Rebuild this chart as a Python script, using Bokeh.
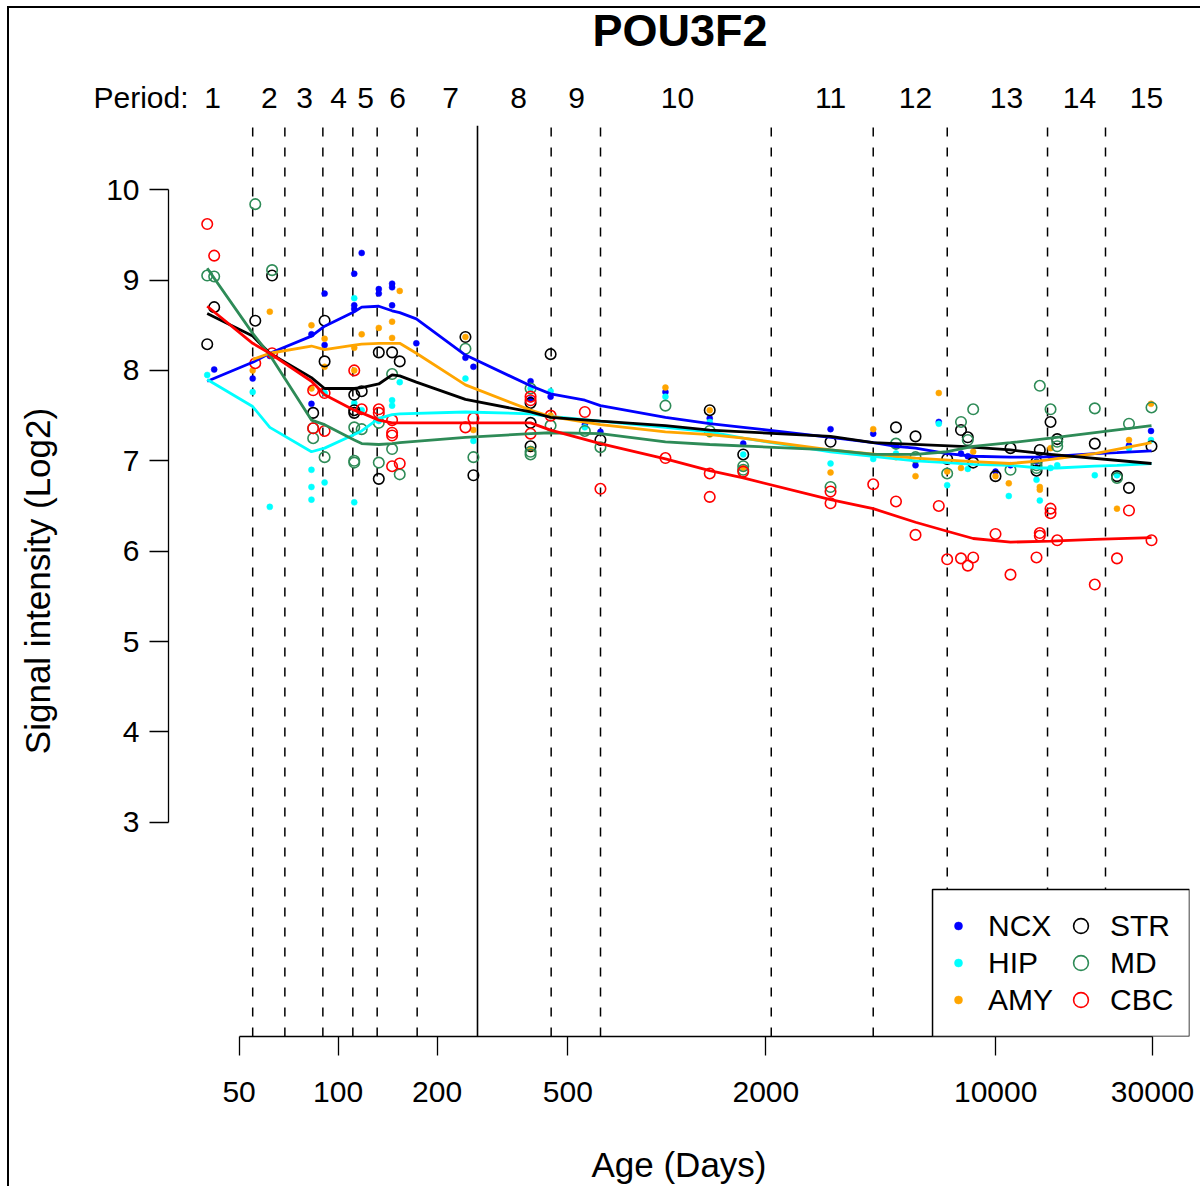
from bokeh.plotting import figure
from bokeh.layouts import column
from bokeh.models import (Range1d, FixedTicker, LogAxis, BasicTickFormatter,
                          Legend, LegendItem, BoxAnnotation)
from bokeh.core.properties import value
from bokeh.embed import file_html
from bokeh.resources import INLINE

# ---------------- data ----------------
title_text = "POU3F2"
x_label = "Age (Days)"
y_label = "Signal intensity (Log2)"
x_ticks = [50, 100, 200, 500, 2000, 10000, 30000]
y_ticks = [3, 4, 5, 6, 7, 8, 9, 10]

period_names = [str(i) for i in range(1, 16)]
period_label_age = [41.5, 61.8, 79.1, 100.3, 121.2, 151.6, 219.8, 353.8, 531.1,
                    1077, 3146, 5704, 10787, 17982, 28742]
period_bounds = [55.0, 68.9, 89.9, 110.9, 131.5, 174.0, 444.7, 628.3,
                 2077, 4242, 7123, 14378, 21578]
birth_age = [265.5]

regions = ["NCX", "HIP", "AMY", "STR", "MD", "CBC"]
colors = {"NCX": "#0000FF", "HIP": "#00FFFF", "AMY": "#FFA500",
          "STR": "#000000", "MD": "#2E8B57", "CBC": "#FF0000"}

ncx_age = [42, 55, 62, 83, 83, 91, 91, 112, 112, 112, 118, 133, 133, 146, 146, 146, 173, 244, 258,
           385, 385, 443, 563, 628, 990, 1350, 1707, 3146, 4242, 4975, 5704, 6714, 7844, 8226,
           9988, 11093, 13310, 14684, 25433, 29676]
ncx_val = [8.01, 7.91, 8.16, 8.40, 7.63, 8.85, 8.28, 9.07, 8.72, 8.68, 9.30, 8.90, 8.85, 8.96, 8.92,
           8.72, 8.30, 8.14, 8.04, 7.88, 7.68, 7.71, 7.40, 7.32, 7.76, 7.47, 7.19, 7.35, 7.30, 7.16,
           6.95, 7.43, 7.08, 7.05, 6.88, 6.95, 6.99, 7.05, 7.17, 7.33]

hip_age = [40, 55, 62, 83, 83, 83, 91, 91, 112, 112, 112, 118, 133, 146, 146, 154, 244, 258, 385,
           443, 563, 990, 1350, 1707, 3146, 4242, 4975, 6714, 7120, 8226, 10962, 13310, 13621,
           14684, 15389, 20018, 23384, 25433, 29676]
hip_val = [7.95, 7.76, 6.49, 6.90, 6.71, 6.57, 7.75, 6.76, 8.80, 7.64, 6.54, 7.56, 7.44, 7.67, 7.61,
           7.87, 7.91, 7.22, 7.80, 7.77, 7.37, 7.71, 7.43, 7.07, 6.97, 7.02, 7.08, 7.41, 6.73, 6.91,
           6.61, 6.79, 6.56, 6.92, 6.95, 6.84, 6.84, 7.14, 7.23]

amy_age = [55, 62, 83, 83, 91, 91, 112, 112, 118, 133, 146, 146, 154, 244, 258, 385, 443, 990,
           1350, 1350, 1707, 3146, 4242, 4975, 5704, 6714, 7120, 7844, 8543, 9988, 10962, 13621,
           13621, 14684, 23384, 25433, 29676]
amy_val = [8.00, 8.65, 8.50, 7.80, 8.35, 8.04, 8.25, 8.00, 8.40, 8.47, 8.54, 8.36, 8.88, 8.37, 7.34,
           7.13, 7.50, 7.81, 7.56, 7.29, 6.92, 6.87, 7.35, 7.04, 6.83, 7.75, 6.88, 6.92, 7.10, 6.83,
           6.75, 6.71, 6.68, 7.14, 6.47, 7.23, 7.63]

str_age = [40, 42, 56, 63, 84, 91, 91, 112, 112, 112, 118, 133, 133, 146, 154, 244, 258, 385, 385,
           385, 443, 628, 1350, 1707, 3146, 4975, 5704, 7120, 7844, 8226, 8543, 9988, 11093, 13310,
           13310, 13621, 14684, 15389, 20018, 23384, 25433, 29780]
str_val = [8.29, 8.70, 8.55, 9.05, 7.53, 8.55, 8.10, 7.73, 7.56, 7.53, 7.77, 8.20, 6.80, 8.20, 8.10,
           8.37, 6.84, 7.64, 7.42, 7.16, 8.18, 7.23, 7.56, 7.07, 7.21, 7.37, 7.27, 7.02, 7.34, 7.26,
           6.98, 6.83, 7.14, 6.99, 6.89, 7.12, 7.43, 7.24, 7.19, 6.83, 6.70, 7.16]

md_age = [40, 42, 56, 63, 84, 84, 91, 112, 112, 112, 118, 133, 133, 146, 146, 154, 244, 258, 385,
          385, 385, 443, 563, 628, 990, 1350, 1707, 1707, 3146, 4975, 5704, 7120, 7844, 8226, 8543,
          11093, 13310, 13310, 13621, 14684, 15389, 15389, 20018, 23384, 25433, 29780]
md_val = [9.05, 9.04, 9.84, 9.11, 7.36, 7.25, 7.04, 7.37, 7.00, 6.98, 7.35, 7.42, 6.98, 7.96, 7.13,
          6.85, 8.24, 7.04, 7.80, 7.10, 7.07, 7.39, 7.33, 7.15, 7.61, 7.33, 6.94, 6.90, 6.71, 7.19,
          7.04, 6.86, 7.43, 7.23, 7.57, 6.90, 6.95, 6.92, 7.83, 7.57, 7.16, 7.21, 7.58, 6.81, 7.41,
          7.59]

cbc_age = [40, 42, 56, 63, 84, 84, 91, 91, 112, 118, 133, 133, 146, 146, 146, 146, 154, 244, 258,
           385, 385, 385, 443, 563, 628, 990, 1350, 1350, 1707, 3146, 3146, 4242, 4975, 5704, 6714,
           7120, 7844, 8226, 8543, 9988, 11093, 13310, 13621, 13621, 14684, 14684, 15389, 20018,
           23384, 25433, 29780]
cbc_val = [9.62, 9.27, 8.08, 8.19, 7.78, 7.36, 7.75, 7.33, 8.00, 7.57, 7.57, 7.53, 7.45, 7.31, 7.28,
           6.94, 6.97, 7.37, 7.47, 7.71, 7.67, 7.30, 7.50, 7.54, 6.69, 7.03, 6.86, 6.60, 6.88, 6.66,
           6.53, 6.74, 6.55, 6.18, 6.50, 5.91, 5.92, 5.84, 5.93, 6.19, 5.74, 5.93, 6.20, 6.17, 6.47,
           6.42, 6.12, 5.63, 5.92, 6.45, 6.12]

# smoothed curves
ncx_fit_age = [40, 55, 62, 83, 91, 112, 118, 133, 146, 154, 173, 244, 385, 443, 563, 628, 990,
               1350, 1707, 3146, 4242, 4975, 5704, 7120, 8543, 11093, 13621, 15389, 20018, 23384,
               29780]
ncx_fit_val = [7.88, 8.09, 8.19, 8.38, 8.49, 8.65, 8.70, 8.71, 8.66, 8.64, 8.57, 8.17, 7.83, 7.74,
               7.67, 7.61, 7.48, 7.41, 7.37, 7.26, 7.20, 7.16, 7.14, 7.08, 7.05, 7.04, 7.04, 7.05,
               7.08, 7.09, 7.11]

hip_fit_age = [40, 55, 62, 83, 91, 112, 118, 133, 146, 154, 244, 385, 443, 628, 990, 1350, 1707,
               3146, 4242, 4975, 5704, 7120, 8543, 11093, 13621, 15389, 20018, 23384, 29780]
hip_fit_val = [7.90, 7.60, 7.37, 7.10, 7.14, 7.29, 7.33, 7.47, 7.51, 7.52, 7.54, 7.52, 7.49, 7.44,
               7.37, 7.32, 7.25, 7.10, 7.05, 7.02, 7.00, 6.98, 6.96, 6.95, 6.92, 6.92, 6.94, 6.95,
               6.97]

amy_fit_age = [55, 62, 83, 91, 112, 118, 133, 154, 173, 244, 385, 443, 628, 990, 1350, 1707, 3146,
               5704, 7844, 8543, 11093, 13621, 20018, 29780]
amy_fit_val = [8.12, 8.19, 8.27, 8.23, 8.28, 8.29, 8.30, 8.30, 8.19, 7.84, 7.56, 7.49, 7.40, 7.32,
               7.29, 7.25, 7.12, 7.03, 7.00, 6.99, 6.97, 7.00, 7.08, 7.20]

str_fit_age = [40, 55, 62, 83, 91, 112, 118, 133, 146, 154, 173, 244, 385, 443, 628, 990, 1350,
               3146, 4242, 7844, 11093, 14684, 29780]
str_fit_val = [8.63, 8.38, 8.19, 7.92, 7.80, 7.80, 7.81, 7.85, 7.95, 7.94, 7.87, 7.68, 7.54, 7.48,
               7.44, 7.39, 7.34, 7.27, 7.20, 7.16, 7.12, 7.07, 6.97]

md_fit_age = [40, 55, 62, 83, 91, 112, 118, 133, 146, 154, 244, 385, 443, 628, 990, 1350, 3146,
              4242, 5704, 7120, 8543, 11093, 14684, 29780]
md_fit_val = [9.13, 8.41, 8.17, 7.45, 7.40, 7.23, 7.19, 7.18, 7.19, 7.20, 7.26, 7.30, 7.31, 7.30,
              7.21, 7.18, 7.12, 7.07, 7.07, 7.10, 7.16, 7.20, 7.25, 7.39]

cbc_fit_age = [40, 55, 62, 83, 91, 112, 118, 133, 146, 244, 385, 443, 628, 990, 1350, 1707, 3146,
               4242, 5704, 7120, 8543, 11093, 14684, 20018, 29780]
cbc_fit_val = [8.71, 8.30, 8.19, 7.88, 7.73, 7.56, 7.53, 7.45, 7.42, 7.42, 7.42, 7.34, 7.19, 7.02,
               6.89, 6.81, 6.57, 6.47, 6.32, 6.22, 6.14, 6.10, 6.11, 6.13, 6.15]

points = {"NCX": (ncx_age, ncx_val), "HIP": (hip_age, hip_val), "AMY": (amy_age, amy_val),
          "STR": (str_age, str_val), "MD": (md_age, md_val), "CBC": (cbc_age, cbc_val)}
fits = {"NCX": (ncx_fit_age, ncx_fit_val), "HIP": (hip_fit_age, hip_fit_val),
        "AMY": (amy_fit_age, amy_fit_val), "STR": (str_fit_age, str_fit_val),
        "MD": (md_fit_age, md_fit_val), "CBC": (cbc_fit_age, cbc_fit_val)}
filled = {"NCX", "HIP", "AMY"}

# ---------------- layout constants ----------------
FONT = "Liberation Sans"
W = 1200
HEADER_H = 125
X_START, X_END = 30.5, 38857.0          # main plotting region (log axis)
HX_START, HX_END = 9.404, 41970.0       # same scale stretched over the full header width
Y_START, Y_END = 0.6286, 10.7105
LEGEND_LEFT, LEGEND_TOP = 6426.0, 2.2555

# ---------------- header: title + period labels ----------------
hdr = figure(width=W, height=HEADER_H, x_axis_type="log",
             x_range=Range1d(HX_START, HX_END), y_range=Range1d(0, 1),
             x_axis_location=None, y_axis_location=None,
             output_backend="svg", toolbar_location=None,
             min_border_left=0, min_border_right=0, min_border_top=0, min_border_bottom=0)
hdr.grid.visible = False
hdr.outline_line_color = None
hdr.background_fill_alpha = 0.0
hdr.border_fill_alpha = 0.0
hdr.title.text = title_text
hdr.title.align = "left"
hdr.title.offset = 592
hdr.title.text_font = FONT
hdr.title.text_font_size = "45px"
hdr.title.text_font_style = "bold"
hdr.title.text_color = "black"
hdr.title.standoff = 4

hdr.text(x=period_label_age, y=[0] * len(period_names), text=period_names,
         y_offset=-28, text_align="center", text_baseline="middle",
         text_font=value(FONT), text_font_size="30px", text_color="black")
hdr.text(x=[35.1], y=[0], text=["Period:"], y_offset=-28, text_align="right",
         text_baseline="middle", text_font=value(FONT), text_font_size="30px",
         text_color="black")

# ---------------- main plot ----------------
p = figure(width=W, height=1061, x_axis_type="log",
           x_range=Range1d(X_START, X_END), y_range=Range1d(Y_START, Y_END),
           output_backend="svg", toolbar_location=None,
           min_border_left=168, min_border_right=11, min_border_top=0, min_border_bottom=150)
p.border_fill_alpha = 0.0
p.outline_line_color = None
p.xgrid.visible = False
p.ygrid.visible = False
p.background_fill_color = "white"

# keep the two canvases' frames independent of each other
hdr.frame_align = False
p.frame_align = False

xa = p.xaxis[0]
xa.ticker = FixedTicker(ticks=x_ticks, minor_ticks=[])
xa.formatter = BasicTickFormatter(use_scientific=False)
xa.bounds = (x_ticks[0], x_ticks[-1])
xa.major_tick_out = 19
xa.major_tick_in = 0
xa.minor_tick_out = 0
xa.minor_tick_in = 0
xa.major_label_standoff = 26
xa.major_label_text_font = FONT
xa.major_label_text_font_size = "30px"
xa.major_label_text_color = "black"
xa.axis_line_width = 1.3
xa.major_tick_line_width = 1.3

ya = p.yaxis[0]
ya.ticker = FixedTicker(ticks=y_ticks, minor_ticks=[])
ya.bounds = (y_ticks[0], y_ticks[-1])
ya.major_tick_out = 19
ya.major_tick_in = 0
ya.minor_tick_out = 0
ya.minor_tick_in = 0
ya.major_label_standoff = 10
ya.major_label_text_font = FONT
ya.major_label_text_font_size = "30px"
ya.major_label_text_color = "black"
ya.axis_line_width = 1.3
ya.major_tick_line_width = 1.3
ya.axis_label = y_label
ya.axis_label_standoff = 46
ya.axis_label_text_font = FONT
ya.axis_label_text_font_size = "35px"
ya.axis_label_text_font_style = "normal"
ya.axis_label_text_color = "black"

# x axis title on a separate, tick-less axis (centred on the plotting region)
xl = LogAxis(ticker=FixedTicker(ticks=[]), axis_label=x_label, axis_line_color=None,
             major_tick_line_color=None, minor_tick_line_color=None,
             major_tick_out=0, minor_tick_out=0, major_label_standoff=0,
             axis_label_standoff=40, axis_label_text_font=FONT,
             axis_label_text_font_size="35px", axis_label_text_font_style="normal",
             axis_label_text_color="black")
p.add_layout(xl, "below")

# period boundaries
nb = len(period_bounds)
p.segment(x0=period_bounds, y0=[Y_START] * nb, x1=period_bounds, y1=[Y_END] * nb,
          line_color="black", line_width=1.5, line_dash="9 11")
p.segment(x0=birth_age, y0=[Y_START], x1=birth_age, y1=[Y_END],
          line_color="black", line_width=1.6)

# points
pt_renderers = {}
for reg in regions:
    ages, vals = points[reg]
    c = colors[reg]
    if reg in filled:
        r = p.scatter(ages, vals, marker="circle", size=6, fill_color=c, line_color=c,
                      line_width=0.5)
    else:
        r = p.scatter(ages, vals, marker="circle", size=10.5, fill_color=None, line_color=c,
                      line_width=1.6)
    pt_renderers[reg] = r

# smoothed curves
for reg in regions:
    ages, vals = fits[reg]
    p.line(ages, vals, line_color=colors[reg], line_width=2.8)

# legend
box = BoxAnnotation(left=LEGEND_LEFT, top=LEGEND_TOP, fill_color="white", fill_alpha=1.0,
                    line_color="black", line_width=1.5, line_alpha=1.0)
p.add_layout(box)

common = dict(orientation="vertical", label_height=37, spacing=0, padding=0, margin=0,
              border_line_color=None, background_fill_alpha=0.0,
              label_text_font=FONT, label_text_font_size="30px", label_text_color="black")
legA = Legend(items=[LegendItem(label=r, renderers=[pt_renderers[r]]) for r in ["NCX", "HIP", "AMY"]],
              location=(780, 18), glyph_width=20, glyph_height=37, label_standoff=20, **common)
legB = Legend(items=[LegendItem(label=r, renderers=[pt_renderers[r]]) for r in ["STR", "MD", "CBC"]],
              location=(894, 18), glyph_width=37, glyph_height=37, label_standoff=11, **common)
legA.level = "overlay"
legB.level = "overlay"
p.add_layout(legA, "center")
p.add_layout(legB, "center")

page = column(hdr, p, spacing=0)
page.styles = {
    "background-color": "white",
    "background-image": "linear-gradient(#000000, #000000), linear-gradient(#000000, #000000)",
    "background-size": "100% 2px, 2px 100%",
    "background-position": "7px 6px, 7px 6px",
    "background-repeat": "no-repeat",
}

open("out.html", "w").write(file_html(page, INLINE))
